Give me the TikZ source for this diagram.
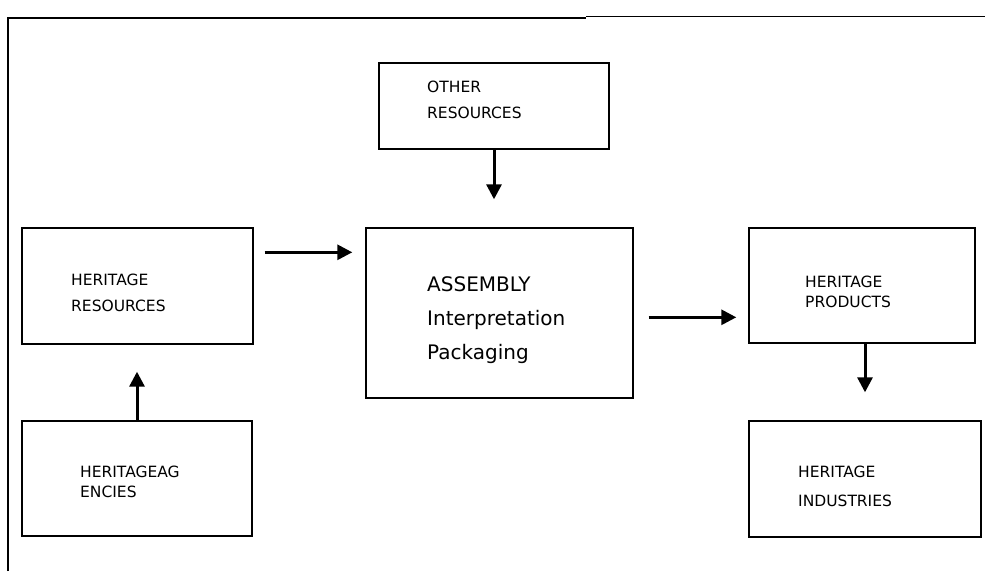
\documentclass[tikz,border=0pt]{standalone}
\usepackage{fontspec}
\setmainfont{DejaVu Sans}
\usetikzlibrary{arrows.meta}

\begin{document}
\begin{tikzpicture}[x=1pt,y=-1pt,
  box/.style={draw=black,line width=1.4pt,fill=white,inner sep=0pt},
  lbl/.style={anchor=base west,inner sep=0pt,font=\fontsize{15.5}{15.5}\selectfont},
  biglbl/.style={anchor=base west,inner sep=0pt,font=\fontsize{20}{20}\selectfont},
  arr/.style={line width=3pt,-{Triangle[length=15pt,width=15pt]}},
  frame/.style={line width=1.2pt}]

% page area
\useasboundingbox (0,0) rectangle (985,571);
\fill[white] (0,0) rectangle (985,571);

% outer frame: left edge and top edge only
\draw[frame] (8,571) -- (8,18) -- (586,18);
\draw[line width=0.9pt] (586,16) -- (985,16);

% boxes (centre, width, height)
\node[box,minimum width=230pt,minimum height=86pt]  (oth) at (494,106) {};
\node[box,minimum width=231pt,minimum height=116pt] (hr)  at (137.5,286) {};
\node[box,minimum width=267pt,minimum height=170pt] (asm) at (499.5,313) {};
\node[box,minimum width=226pt,minimum height=115pt] (hp)  at (862,285.5) {};
\node[box,minimum width=232pt,minimum height=116pt] (hi)  at (865,479) {};
\node[box,minimum width=230pt,minimum height=115pt] (ha)  at (137,478.5) {};

% labels
\node[lbl] (oth1) at (427,92)  {OTHER};
\node[lbl] (oth2) at (427,118) {RESOURCES};

\node[lbl] (hr1) at (71,285) {HERITAGE};
\node[lbl] (hr2) at (71,311) {RESOURCES};

\node[biglbl] (asm1) at (427,291) {ASSEMBLY};
\node[biglbl] (asm2) at (427,325) {Interpretation};
\node[biglbl] (asm3) at (427,359) {Packaging};

\node[lbl] (hp1) at (805,287) {HERITAGE};
\node[lbl] (hp2) at (805,307) {PRODUCTS};

\node[lbl] (hi1) at (798,477) {HERITAGE};
\node[lbl] (hi2) at (798,506) {INDUSTRIES};

\node[lbl] (ha1) at (80,477) {HERITAGEAG};
\node[lbl] (ha2) at (80,497) {ENCIES};

% connectors (canvas yshift points up)
\draw[arr] (oth.south) -- ([yshift=28pt]asm.north -| oth.south);
\draw[arr] ([xshift=11pt,yshift=-25pt]hr.north east) -- ([xshift=-13pt,yshift=-25pt]asm.north west);
\draw[arr] ([xshift=15pt,yshift=-90pt]asm.north east) -- ([xshift=-12pt,yshift=-90pt]hp.north west);
\draw[arr] (hp.south -| hi.north) -- ([yshift=28pt]hi.north);
\draw[arr] (ha.north) -- ([yshift=-27pt]hr.south -| ha.north);

\end{tikzpicture}
\end{document}
